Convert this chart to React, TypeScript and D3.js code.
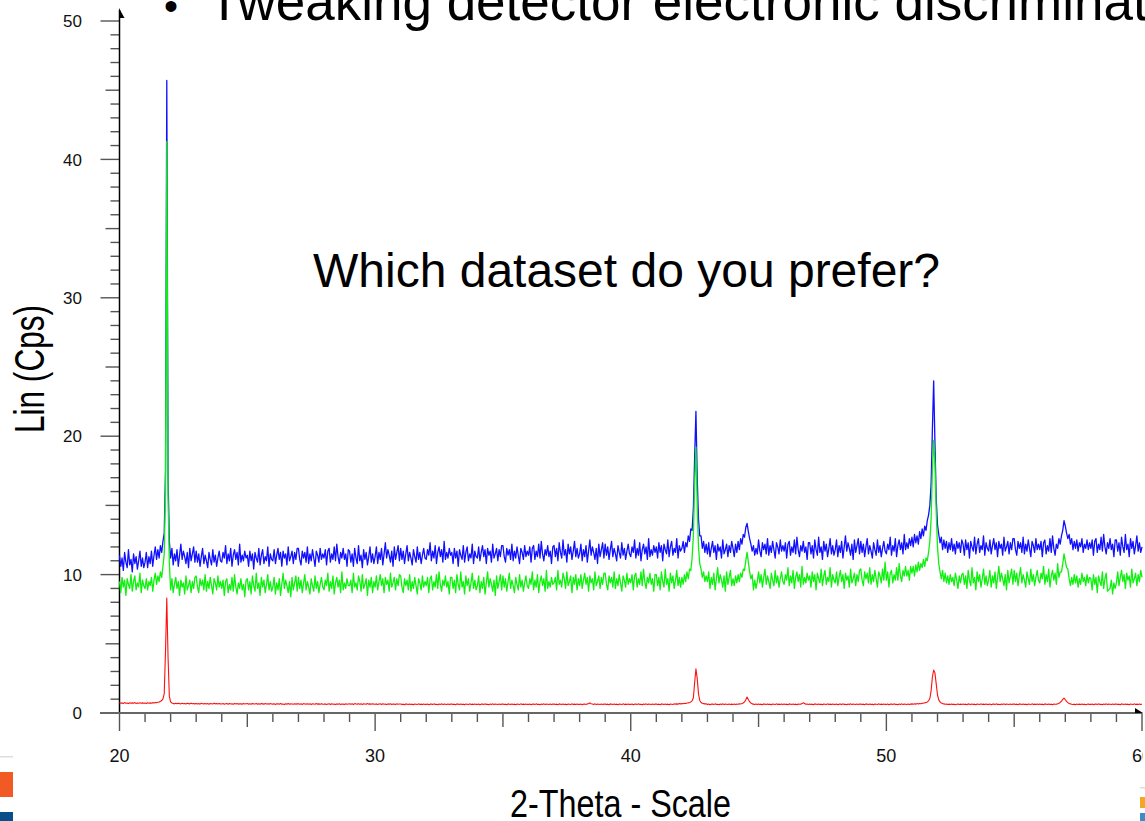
import React from "react";
import * as d3 from "d3";

const W = 1145;
const H = 821;
const FONT = "'Liberation Sans', Arial, Helvetica, sans-serif";

// scan: 2-theta from 20 to 60 deg, 0.05 deg step (one row per degree)
const scanStart = 20;
const scanStep = 0.05;

const blueCps = [
  11.4, 10.6, 11.2, 10.3, 11.6, 10.9, 10.5, 11.8, 10.7, 11.1, 10.2, 11.5, 10.8, 11.3, 10.4, 11.0, 11.7, 10.6, 11.2, 10.5,
  10.9, 11.6, 10.5, 11.3, 10.8, 11.7, 10.6, 11.4, 12.0, 11.1, 11.8, 11.2, 12.1, 11.6, 12.4, 13.0, 17.5, 45.7, 17.0, 12.4,
  11.2, 11.9, 10.7, 11.5, 11.0, 11.8, 10.6, 11.4, 12.2, 11.1, 11.7, 11.3, 10.8, 11.6, 10.5, 11.9, 11.0, 11.5, 12.0, 10.9,
  11.7, 10.9, 11.5, 10.6, 11.3, 11.9, 10.8, 11.4, 11.0, 10.5, 11.6, 11.1, 10.7, 11.8, 10.9, 11.4, 10.6, 11.2, 11.7, 11.0,
  10.9, 11.6, 11.2, 12.1, 10.8, 11.5, 11.0, 11.9, 10.6, 11.4, 11.8, 11.1, 11.6, 10.7, 12.2, 10.9, 11.4, 11.0, 11.7, 11.2,
  11.4, 10.6, 11.7, 11.0, 11.5, 10.4, 11.6, 11.2, 10.9, 11.9, 10.7, 11.4, 11.8, 10.8, 11.3, 11.0, 12.0, 10.6, 11.5, 11.1,
  11.0, 11.8, 10.8, 11.4, 11.9, 11.1, 11.6, 10.6, 11.7, 11.2, 11.5, 10.7, 12.0, 11.0, 11.3, 11.7, 10.8, 11.6, 11.1, 11.9,
  11.9, 11.1, 10.7, 11.7, 11.2, 11.6, 10.9, 12.0, 10.8, 11.5, 11.0, 11.8, 11.2, 10.6, 11.7, 11.4, 10.9, 11.9, 11.1, 11.5,
  11.2, 11.8, 10.7, 11.7, 11.9, 10.9, 11.5, 11.1, 12.0, 11.0, 12.2, 11.3, 10.8, 11.6, 11.2, 11.9, 11.1, 11.5, 10.6, 11.8,
  11.7, 10.9, 11.5, 10.6, 11.9, 11.2, 10.8, 12.1, 11.0, 11.4, 10.5, 11.8, 11.1, 11.6, 10.7, 11.3, 12.0, 10.9, 11.5, 10.8,
  11.3, 12.0, 10.8, 11.6, 11.1, 11.9, 10.7, 11.5, 12.3, 11.2, 11.8, 11.4, 10.9, 11.7, 10.6, 12.0, 11.1, 11.6, 12.1, 11.0,
  11.9, 11.1, 11.7, 10.8, 11.5, 12.1, 11.0, 11.6, 11.2, 10.7, 11.8, 11.3, 10.9, 12.0, 11.1, 11.6, 10.8, 11.4, 11.9, 11.2,
  11.1, 11.8, 11.4, 12.3, 11.0, 11.7, 11.2, 12.1, 10.8, 11.6, 12.0, 11.3, 11.8, 10.9, 12.4, 11.1, 11.6, 11.2, 11.9, 11.4,
  11.6, 10.8, 11.9, 11.2, 11.7, 10.6, 11.8, 11.4, 11.1, 12.1, 10.9, 11.6, 12.0, 11.0, 11.5, 11.2, 12.2, 10.8, 11.7, 11.3,
  11.2, 12.0, 11.0, 11.6, 12.1, 11.3, 11.8, 10.8, 11.9, 11.4, 11.7, 10.9, 12.2, 11.2, 11.5, 11.9, 11.0, 11.8, 11.3, 12.1,
  12.1, 11.3, 10.9, 11.9, 11.4, 11.8, 11.1, 12.2, 11.0, 11.7, 11.2, 12.0, 11.4, 10.8, 11.9, 11.6, 11.1, 12.1, 11.3, 11.7,
  11.4, 12.0, 10.9, 11.9, 12.1, 11.1, 11.7, 11.3, 12.2, 11.2, 12.4, 11.5, 11.0, 11.8, 11.4, 12.1, 11.3, 11.7, 10.8, 12.0,
  12.1, 11.3, 11.9, 11.0, 12.3, 11.6, 11.2, 12.5, 11.4, 11.8, 10.9, 12.2, 11.5, 12.0, 11.1, 11.7, 12.4, 11.3, 11.9, 11.2,
  11.5, 12.2, 11.0, 11.8, 11.3, 12.1, 10.9, 11.7, 12.5, 11.4, 12.0, 11.6, 11.1, 11.9, 10.8, 12.2, 11.3, 11.8, 12.3, 11.2,
  12.2, 11.4, 12.0, 11.1, 11.8, 12.4, 11.3, 11.9, 11.5, 11.0, 12.1, 11.6, 11.2, 12.3, 11.4, 11.9, 11.1, 11.7, 12.2, 11.5,
  11.3, 12.0, 11.6, 12.5, 11.2, 11.9, 11.4, 12.3, 11.0, 11.8, 12.2, 11.5, 12.0, 11.1, 12.6, 11.3, 11.8, 11.4, 12.1, 11.6,
  12.0, 11.2, 12.3, 11.6, 12.1, 11.0, 12.2, 11.8, 11.5, 12.5, 11.3, 12.0, 12.4, 11.4, 11.9, 11.6, 12.6, 11.2, 12.1, 11.7,
  11.9, 12.4, 11.6, 12.3, 12.0, 12.8, 12.4, 13.3, 13.2, 14.8, 18.5, 21.8, 17.0, 14.0, 12.8, 12.8, 11.9, 12.4, 11.6, 12.2,
  11.5, 12.3, 11.3, 11.9, 12.4, 11.6, 12.1, 11.1, 12.2, 11.7, 12.0, 11.2, 12.5, 11.5, 11.8, 12.2, 11.3, 12.1, 11.6, 12.4,
  11.9, 11.3, 12.2, 11.6, 12.4, 11.8, 12.6, 12.2, 12.9, 12.7, 13.4, 13.7, 13.1, 12.6, 12.2, 11.7, 12.1, 11.4, 11.9, 11.5,
  12.5, 11.7, 11.3, 12.3, 11.8, 12.2, 11.5, 12.6, 11.4, 12.1, 11.6, 12.4, 11.8, 11.2, 12.3, 12.0, 11.5, 12.5, 11.7, 12.1,
  11.7, 12.3, 11.2, 12.2, 12.4, 11.4, 12.0, 11.6, 12.5, 11.5, 12.7, 11.8, 11.3, 12.1, 11.7, 12.4, 11.6, 12.0, 11.1, 12.3,
  12.3, 11.5, 12.1, 11.2, 12.5, 11.8, 11.4, 12.7, 11.6, 12.0, 11.1, 12.4, 11.7, 12.2, 11.3, 11.9, 12.6, 11.5, 12.1, 11.4,
  11.8, 12.5, 11.3, 12.1, 11.6, 12.4, 11.2, 12.0, 12.8, 11.7, 12.3, 11.9, 11.4, 12.2, 11.1, 12.5, 11.6, 12.1, 12.6, 11.5,
  12.4, 11.6, 12.2, 11.3, 12.0, 12.6, 11.5, 12.1, 11.7, 11.2, 12.3, 11.8, 11.4, 12.5, 11.6, 12.1, 11.3, 11.9, 12.4, 11.7,
  11.5, 12.2, 11.8, 12.7, 11.4, 12.1, 11.7, 12.6, 11.3, 12.1, 12.5, 11.8, 12.3, 11.5, 12.9, 11.8, 12.3, 11.9, 12.6, 12.1,
  12.7, 12.0, 12.9, 12.3, 12.8, 12.2, 13.1, 12.6, 13.3, 12.8, 13.5, 13.2, 13.9, 14.3, 15.0, 16.5, 20.5, 24.0, 19.5, 15.5,
  13.6, 12.9, 12.3, 12.7, 11.8, 12.5, 11.9, 12.4, 11.6, 12.3, 11.8, 12.6, 11.7, 12.2, 11.5, 12.4, 11.9, 12.3, 11.6, 12.5,
  12.2, 11.4, 12.5, 11.8, 12.3, 11.2, 12.4, 12.0, 11.7, 12.7, 11.5, 12.2, 12.6, 11.6, 12.1, 11.8, 12.8, 11.4, 12.3, 11.9,
  11.7, 12.5, 11.5, 12.1, 12.6, 11.8, 12.3, 11.3, 12.4, 11.9, 12.2, 11.4, 12.7, 11.7, 12.0, 12.4, 11.5, 12.3, 11.8, 12.6,
  12.6, 11.8, 11.4, 12.4, 11.9, 12.3, 11.6, 12.7, 11.5, 12.2, 11.7, 12.5, 11.9, 11.3, 12.4, 12.1, 11.6, 12.6, 11.8, 12.2,
  11.8, 12.4, 11.3, 12.3, 12.5, 11.5, 12.1, 11.7, 12.6, 11.6, 12.8, 11.9, 11.4, 12.2, 11.9, 12.6, 12.2, 12.8, 13.2, 13.9,
  13.5, 13.0, 12.6, 12.9, 12.2, 12.6, 11.8, 12.4, 11.9, 12.5, 11.7, 12.3, 12.0, 12.6, 11.6, 12.2, 11.9, 12.5, 11.8, 12.3,
  11.9, 12.5, 11.4, 12.4, 12.6, 11.6, 12.2, 11.8, 12.7, 11.7, 12.9, 12.0, 11.5, 12.3, 11.9, 12.6, 11.8, 12.2, 11.3, 12.5,
  12.5, 11.7, 12.3, 11.4, 12.7, 12.0, 11.6, 12.9, 11.8, 12.2, 11.3, 12.6, 11.9, 12.4, 11.5, 12.1, 12.8, 11.7, 12.3, 11.6,
  12.0,
];

const greenCps = [
  9.5, 8.7, 9.8, 9.1, 9.6, 8.5, 9.7, 9.3, 9.0, 10.0, 8.8, 9.5, 9.9, 8.9, 9.4, 9.1, 10.1, 8.7, 9.6, 9.2,
  9.0, 9.7, 8.9, 9.5, 9.2, 9.8, 8.8, 9.6, 10.1, 9.3, 9.9, 9.5, 10.2, 9.8, 10.6, 11.5, 16.0, 41.3, 15.5, 10.8,
  8.9, 9.7, 8.7, 9.3, 9.8, 9.0, 9.5, 8.5, 9.6, 9.1, 9.4, 8.6, 9.9, 8.9, 9.2, 9.6, 8.7, 9.5, 9.0, 9.8,
  9.9, 9.1, 8.7, 9.7, 9.2, 9.6, 8.9, 10.0, 8.8, 9.5, 9.0, 9.8, 9.2, 8.6, 9.7, 9.4, 8.9, 9.9, 9.1, 9.5,
  9.0, 9.6, 8.5, 9.5, 9.7, 8.7, 9.3, 8.9, 9.8, 8.8, 10.0, 9.1, 8.6, 9.4, 9.0, 9.7, 8.9, 9.3, 8.4, 9.6,
  9.7, 8.9, 9.5, 8.6, 9.9, 9.2, 8.8, 10.1, 9.0, 9.4, 8.5, 9.8, 9.1, 9.6, 8.7, 9.3, 10.0, 8.9, 9.5, 8.8,
  9.1, 9.8, 8.6, 9.4, 8.9, 9.7, 8.5, 9.3, 10.1, 9.0, 9.6, 9.2, 8.7, 9.5, 8.4, 9.8, 8.9, 9.4, 9.9, 8.8,
  9.8, 9.0, 9.6, 8.7, 9.4, 10.0, 8.9, 9.5, 9.1, 8.6, 9.7, 9.2, 8.8, 9.9, 9.0, 9.5, 8.7, 9.3, 9.8, 9.1,
  8.9, 9.6, 9.2, 10.1, 8.8, 9.5, 9.0, 9.9, 8.6, 9.4, 9.8, 9.1, 9.6, 8.7, 10.2, 8.9, 9.4, 9.0, 9.7, 9.2,
  9.2, 9.6, 8.7, 10.1, 9.1, 9.4, 8.9, 9.9, 9.5, 8.8, 10.0, 9.0, 9.3, 9.7, 8.5, 9.6, 9.1, 9.8, 8.7, 9.5,
  9.1, 9.9, 8.9, 9.5, 10.0, 9.2, 9.7, 8.7, 9.8, 9.3, 9.6, 8.8, 10.1, 9.1, 9.4, 9.8, 8.9, 9.7, 9.2, 10.0,
  9.9, 9.1, 8.7, 9.7, 9.2, 9.6, 8.9, 10.0, 8.8, 9.5, 9.0, 9.8, 9.2, 8.6, 9.7, 9.4, 8.9, 9.9, 9.1, 9.5,
  9.2, 9.8, 8.7, 9.7, 9.9, 8.9, 9.5, 9.1, 10.0, 9.0, 10.2, 9.3, 8.8, 9.6, 9.2, 9.9, 9.1, 9.5, 8.6, 9.8,
  9.8, 9.0, 9.6, 8.7, 10.0, 9.3, 8.9, 10.2, 9.1, 9.5, 8.6, 9.9, 9.2, 9.7, 8.8, 9.4, 10.1, 9.0, 9.6, 8.9,
  9.2, 9.9, 8.7, 9.5, 9.0, 9.8, 8.6, 9.4, 10.2, 9.1, 9.7, 9.3, 8.8, 9.6, 8.5, 9.9, 9.0, 9.5, 10.0, 8.9,
  9.9, 9.1, 9.7, 8.8, 9.5, 10.1, 9.0, 9.6, 9.2, 8.7, 9.8, 9.3, 8.9, 10.0, 9.1, 9.6, 8.8, 9.4, 9.9, 9.2,
  9.0, 9.7, 9.3, 10.2, 8.9, 9.6, 9.1, 10.0, 8.7, 9.5, 9.9, 9.2, 9.7, 8.8, 10.3, 9.0, 9.5, 9.1, 9.8, 9.3,
  9.4, 9.8, 8.9, 10.3, 9.3, 9.6, 9.1, 10.1, 9.7, 9.0, 10.2, 9.2, 9.5, 9.9, 8.7, 9.8, 9.3, 10.0, 8.9, 9.7,
  9.2, 10.0, 9.0, 9.6, 10.1, 9.3, 9.8, 8.8, 9.9, 9.4, 9.7, 8.9, 10.2, 9.2, 9.5, 9.9, 9.0, 9.8, 9.3, 10.1,
  10.1, 9.3, 8.9, 9.9, 9.4, 9.8, 9.1, 10.2, 9.0, 9.7, 9.2, 10.0, 9.4, 8.8, 9.9, 9.6, 9.1, 10.1, 9.3, 9.7,
  9.4, 10.0, 8.9, 9.9, 10.1, 9.1, 9.7, 9.3, 10.2, 9.2, 10.4, 9.5, 9.0, 9.8, 9.4, 10.1, 9.3, 9.7, 8.8, 10.0,
  10.0, 9.2, 9.8, 8.9, 10.2, 9.5, 9.1, 10.4, 9.3, 9.7, 8.8, 10.1, 9.4, 9.9, 9.0, 9.6, 10.3, 9.2, 9.8, 9.1,
  9.8, 9.3, 10.0, 9.5, 10.2, 9.7, 10.4, 10.3, 11.2, 12.8, 16.5, 19.2, 15.0, 12.0, 10.8, 10.4, 9.8, 10.2, 9.5, 9.9,
  9.5, 10.2, 9.0, 9.8, 9.3, 10.1, 8.9, 9.7, 10.5, 9.4, 10.0, 9.6, 9.1, 9.9, 8.8, 10.2, 9.3, 9.8, 10.3, 9.2,
  9.7, 9.2, 9.9, 9.4, 10.0, 9.5, 10.1, 9.8, 10.4, 10.3, 11.0, 11.6, 10.9, 10.2, 9.7, 10.0, 8.9, 9.6, 9.0, 9.5,
  10.2, 9.4, 10.0, 9.1, 9.8, 10.4, 9.3, 9.9, 9.5, 9.0, 10.1, 9.6, 9.2, 10.3, 9.4, 9.9, 9.1, 9.7, 10.2, 9.5,
  9.3, 10.0, 9.6, 10.5, 9.2, 9.9, 9.4, 10.3, 9.0, 9.8, 10.2, 9.5, 10.0, 9.1, 10.6, 9.3, 9.8, 9.4, 10.1, 9.6,
  9.9, 9.1, 10.2, 9.5, 10.0, 8.9, 10.1, 9.7, 9.4, 10.4, 9.2, 9.9, 10.3, 9.3, 9.8, 9.5, 10.5, 9.1, 10.0, 9.6,
  9.4, 10.2, 9.2, 9.8, 10.3, 9.5, 10.0, 9.0, 10.1, 9.6, 9.9, 9.1, 10.4, 9.4, 9.7, 10.1, 9.2, 10.0, 9.5, 10.3,
  10.4, 9.6, 9.2, 10.2, 9.7, 10.1, 9.4, 10.5, 9.3, 10.0, 9.5, 10.3, 9.7, 9.1, 10.2, 9.9, 9.4, 10.4, 9.6, 10.9,
  9.6, 10.2, 9.1, 10.1, 10.3, 9.4, 10.0, 9.6, 10.5, 9.6, 10.8, 9.9, 9.5, 10.3, 9.9, 10.6, 9.9, 10.3, 9.6, 10.6,
  10.1, 10.6, 9.9, 10.7, 10.2, 10.9, 10.3, 10.8, 10.5, 11.1, 10.6, 11.2, 11.0, 11.6, 12.4, 14.0, 17.5, 19.7, 18.0, 14.5,
  12.0, 10.8, 10.2, 9.7, 10.3, 9.5, 10.1, 9.4, 9.9, 9.3, 10.0, 9.5, 9.8, 9.2, 10.1, 9.6, 9.0, 9.9, 9.4, 10.0,
  10.1, 9.3, 9.9, 9.0, 10.3, 9.6, 9.2, 10.5, 9.4, 9.8, 8.9, 10.2, 9.5, 10.0, 9.1, 9.7, 10.4, 9.3, 9.9, 9.2,
  9.6, 10.3, 9.1, 9.9, 9.4, 10.2, 9.0, 9.8, 10.6, 9.5, 10.1, 9.7, 9.2, 10.0, 8.9, 10.3, 9.4, 9.9, 10.4, 9.3,
  10.3, 9.5, 10.1, 9.2, 9.9, 10.5, 9.4, 10.0, 9.6, 9.1, 10.2, 9.7, 9.3, 10.4, 9.5, 10.0, 9.2, 9.8, 10.3, 9.6,
  9.4, 10.1, 9.7, 10.6, 9.3, 10.0, 9.5, 10.4, 9.1, 9.9, 10.3, 9.6, 10.1, 9.3, 10.8, 9.8, 10.2, 10.2, 10.8, 11.5,
  11.0, 10.5, 10.4, 9.7, 9.2, 9.8, 9.3, 10.0, 9.4, 9.9, 9.1, 9.7, 9.3, 10.1, 9.5, 9.8, 9.2, 10.0, 9.4, 9.8,
  9.7, 8.9, 10.0, 9.3, 9.8, 8.7, 9.9, 9.5, 9.2, 10.2, 9.0, 9.7, 10.1, 8.8, 8.9, 9.0, 9.6, 8.6, 9.4, 9.0,
  9.4, 10.2, 9.2, 9.8, 10.3, 9.5, 10.0, 9.0, 10.1, 9.6, 9.9, 9.1, 10.4, 9.4, 9.7, 10.1, 9.2, 10.0, 9.5, 10.3,
  9.8,
];

const redCps = [
  0.74, 0.70, 0.73, 0.69, 0.75, 0.71, 0.72, 0.68, 0.74, 0.70, 0.73, 0.71, 0.75, 0.69, 0.72, 0.70, 0.74, 0.71, 0.73, 0.70,
  0.72, 0.69, 0.74, 0.71, 0.73, 0.70, 0.75, 0.72, 0.76, 0.74, 0.78, 0.80, 0.84, 0.90, 1.02, 1.40, 4.5, 8.3, 4.0, 1.2,
  0.80, 0.72, 0.69, 0.66, 0.70, 0.67, 0.71, 0.68, 0.66, 0.70, 0.67, 0.69, 0.65, 0.70, 0.68, 0.66, 0.71, 0.67, 0.69, 0.66,
  0.69, 0.65, 0.68, 0.64, 0.70, 0.67, 0.66, 0.69, 0.65, 0.68, 0.64, 0.69, 0.67, 0.65, 0.70, 0.66, 0.68, 0.65, 0.69, 0.66,
  0.65, 0.68, 0.63, 0.67, 0.68, 0.64, 0.69, 0.65, 0.66, 0.63, 0.68, 0.65, 0.69, 0.64, 0.67, 0.66, 0.64, 0.68, 0.65, 0.67,
  0.68, 0.64, 0.67, 0.63, 0.69, 0.66, 0.65, 0.68, 0.64, 0.67, 0.63, 0.68, 0.66, 0.64, 0.69, 0.65, 0.67, 0.64, 0.68, 0.65,
  0.64, 0.67, 0.62, 0.66, 0.67, 0.63, 0.68, 0.64, 0.65, 0.62, 0.67, 0.64, 0.68, 0.63, 0.66, 0.65, 0.63, 0.67, 0.64, 0.66,
  0.67, 0.63, 0.66, 0.62, 0.68, 0.65, 0.64, 0.67, 0.63, 0.66, 0.62, 0.67, 0.65, 0.63, 0.68, 0.64, 0.66, 0.63, 0.67, 0.64,
  0.63, 0.66, 0.61, 0.65, 0.66, 0.62, 0.67, 0.63, 0.64, 0.61, 0.66, 0.63, 0.67, 0.62, 0.65, 0.64, 0.62, 0.66, 0.63, 0.65,
  0.67, 0.63, 0.66, 0.62, 0.68, 0.65, 0.64, 0.67, 0.63, 0.66, 0.62, 0.67, 0.65, 0.63, 0.68, 0.64, 0.66, 0.63, 0.67, 0.64,
  0.63, 0.66, 0.61, 0.65, 0.66, 0.62, 0.67, 0.63, 0.64, 0.61, 0.66, 0.63, 0.67, 0.62, 0.65, 0.64, 0.62, 0.66, 0.63, 0.65,
  0.65, 0.61, 0.64, 0.60, 0.66, 0.63, 0.62, 0.65, 0.61, 0.64, 0.60, 0.65, 0.63, 0.61, 0.66, 0.62, 0.64, 0.61, 0.65, 0.62,
  0.62, 0.65, 0.60, 0.64, 0.65, 0.61, 0.66, 0.62, 0.63, 0.60, 0.65, 0.62, 0.66, 0.61, 0.64, 0.63, 0.61, 0.65, 0.62, 0.64,
  0.65, 0.61, 0.64, 0.60, 0.66, 0.63, 0.62, 0.65, 0.61, 0.64, 0.60, 0.65, 0.63, 0.61, 0.66, 0.62, 0.64, 0.61, 0.65, 0.62,
  0.62, 0.65, 0.60, 0.64, 0.65, 0.61, 0.66, 0.62, 0.63, 0.60, 0.65, 0.62, 0.66, 0.61, 0.64, 0.63, 0.61, 0.65, 0.62, 0.64,
  0.65, 0.61, 0.64, 0.60, 0.66, 0.63, 0.62, 0.65, 0.61, 0.64, 0.60, 0.65, 0.63, 0.61, 0.66, 0.62, 0.64, 0.61, 0.65, 0.62,
  0.62, 0.65, 0.60, 0.64, 0.65, 0.61, 0.66, 0.62, 0.63, 0.60, 0.65, 0.62, 0.66, 0.61, 0.64, 0.63, 0.61, 0.65, 0.62, 0.64,
  0.65, 0.61, 0.64, 0.60, 0.66, 0.63, 0.62, 0.65, 0.61, 0.64, 0.60, 0.65, 0.63, 0.61, 0.66, 0.62, 0.64, 0.61, 0.65, 0.62,
  0.62, 0.65, 0.60, 0.64, 0.65, 0.61, 0.66, 0.68, 0.73, 0.67, 0.65, 0.62, 0.66, 0.61, 0.64, 0.63, 0.61, 0.65, 0.62, 0.64,
  0.65, 0.61, 0.64, 0.60, 0.66, 0.63, 0.62, 0.65, 0.61, 0.64, 0.60, 0.65, 0.63, 0.61, 0.66, 0.62, 0.64, 0.61, 0.65, 0.62,
  0.62, 0.65, 0.60, 0.64, 0.65, 0.61, 0.66, 0.62, 0.63, 0.60, 0.65, 0.62, 0.66, 0.61, 0.64, 0.63, 0.61, 0.65, 0.62, 0.64,
  0.65, 0.61, 0.64, 0.60, 0.66, 0.63, 0.62, 0.65, 0.61, 0.64, 0.60, 0.65, 0.63, 0.61, 0.66, 0.64, 0.66, 0.64, 0.68, 0.66,
  0.68, 0.67, 0.70, 0.69, 0.72, 0.73, 0.76, 0.80, 0.88, 1.10, 2.2, 3.2, 2.5, 1.4, 0.90, 0.76, 0.70, 0.68, 0.66, 0.67,
  0.62, 0.65, 0.60, 0.64, 0.65, 0.61, 0.66, 0.62, 0.63, 0.60, 0.65, 0.62, 0.66, 0.61, 0.64, 0.63, 0.61, 0.65, 0.62, 0.64,
  0.62, 0.65, 0.61, 0.64, 0.63, 0.66, 0.65, 0.68, 0.72, 0.80, 0.95, 1.15, 0.98, 0.82, 0.72, 0.66, 0.64, 0.62, 0.65, 0.61,
  0.65, 0.61, 0.64, 0.60, 0.66, 0.63, 0.62, 0.65, 0.61, 0.64, 0.60, 0.65, 0.63, 0.61, 0.66, 0.62, 0.64, 0.61, 0.65, 0.62,
  0.65, 0.61, 0.64, 0.60, 0.66, 0.63, 0.62, 0.65, 0.61, 0.64, 0.60, 0.65, 0.63, 0.64, 0.68, 0.74, 0.69, 0.63, 0.65, 0.62,
  0.65, 0.61, 0.64, 0.60, 0.66, 0.63, 0.62, 0.65, 0.61, 0.64, 0.60, 0.65, 0.63, 0.61, 0.66, 0.62, 0.64, 0.61, 0.65, 0.62,
  0.62, 0.65, 0.60, 0.64, 0.65, 0.61, 0.66, 0.62, 0.63, 0.60, 0.65, 0.62, 0.66, 0.61, 0.64, 0.63, 0.61, 0.65, 0.62, 0.64,
  0.65, 0.61, 0.64, 0.60, 0.66, 0.63, 0.62, 0.65, 0.61, 0.64, 0.60, 0.65, 0.63, 0.61, 0.66, 0.62, 0.64, 0.61, 0.65, 0.62,
  0.62, 0.65, 0.60, 0.64, 0.65, 0.61, 0.66, 0.62, 0.63, 0.60, 0.65, 0.62, 0.66, 0.61, 0.64, 0.63, 0.61, 0.65, 0.62, 0.64,
  0.66, 0.63, 0.67, 0.64, 0.68, 0.65, 0.69, 0.67, 0.71, 0.70, 0.74, 0.75, 0.80, 0.88, 1.05, 1.60, 2.60, 3.1, 2.9, 2.1,
  1.30, 0.95, 0.80, 0.72, 0.68, 0.66, 0.63, 0.65, 0.61, 0.64, 0.62, 0.65, 0.61, 0.64, 0.60, 0.63, 0.65, 0.61, 0.64, 0.62,
  0.65, 0.61, 0.64, 0.60, 0.66, 0.63, 0.62, 0.65, 0.61, 0.64, 0.60, 0.65, 0.63, 0.61, 0.66, 0.62, 0.64, 0.61, 0.65, 0.62,
  0.62, 0.65, 0.60, 0.64, 0.65, 0.61, 0.66, 0.62, 0.63, 0.60, 0.65, 0.62, 0.66, 0.61, 0.64, 0.63, 0.61, 0.65, 0.62, 0.64,
  0.65, 0.61, 0.64, 0.60, 0.66, 0.63, 0.62, 0.65, 0.61, 0.64, 0.60, 0.65, 0.63, 0.61, 0.66, 0.62, 0.64, 0.61, 0.65, 0.62,
  0.65, 0.61, 0.64, 0.60, 0.66, 0.63, 0.62, 0.65, 0.61, 0.64, 0.60, 0.65, 0.63, 0.64, 0.66, 0.70, 0.76, 0.86, 0.98, 1.08,
  0.96, 0.84, 0.75, 0.69, 0.66, 0.63, 0.61, 0.64, 0.60, 0.65, 0.62, 0.64, 0.61, 0.65, 0.62, 0.64, 0.60, 0.63, 0.65, 0.62,
  0.62, 0.65, 0.60, 0.64, 0.65, 0.61, 0.66, 0.62, 0.63, 0.60, 0.65, 0.62, 0.66, 0.61, 0.64, 0.63, 0.61, 0.65, 0.62, 0.64,
  0.65, 0.61, 0.64, 0.60, 0.66, 0.63, 0.62, 0.65, 0.61, 0.64, 0.60, 0.65, 0.63, 0.61, 0.66, 0.62, 0.64, 0.61, 0.65, 0.62,
  0.63,
];

const yTickLabels = [0, 10, 20, 30, 40, 50];
const xTickLabels = [20, 30, 40, 50, 60];

const seriesList = [
  { name: "blue", values: blueCps, color: "#1010ff", width: 1.3 },
  { name: "green", values: greenCps, color: "#10f010", width: 1.3 },
  { name: "red", values: redCps, color: "#ff1010", width: 1.1 },
];

export default function App() {
  var x = d3.scaleLinear().domain([20, 60]).range([119.5, 1142]);
  var y = d3.scaleLinear().domain([0, 50]).range([713, 21]);

  var line = d3
    .line<[number, number]>()
    .x((d) => x(d[0]))
    .y((d) => y(d[1]));

  var pts = (vals: number[]) =>
    vals.map((v, i) => [scanStart + i * scanStep, v] as [number, number]);

  var yTicks = d3.range(0, 51, 1);
  var xTicks = d3.range(20, 61, 1);

  return (
    <svg
      width={W}
      height={H}
      style={{ position: "absolute", left: 0, top: 0, display: "block", background: "#fff" }}
      fontFamily={FONT}
    >
      <defs>
        <clipPath id="pageClip">
          <rect x={0} y={0} width={1143} height={H} />
        </clipPath>
      </defs>

      {/* slide bullet text, cut by the top edge */}
      <text x={164} y={20} fontSize={40} fill="#000">•</text>
      <text x={208} y={20} fontSize={53} fill="#000">
        Tweaking detector electronic discrimination
      </text>

      {/* y axis */}
      {yTicks.map((t) => {
        var len = t % 10 === 0 ? 19 : t % 5 === 0 ? 14 : 9;
        return (
          <line key={"yt" + t} x1={119.5 - len} x2={119.5} y1={y(t)} y2={y(t)}
            stroke="#555" strokeWidth={1.4} />
        );
      })}
      <line x1={119.5} x2={119.5} y1={10} y2={713} stroke="#000" strokeWidth={1.5} />
      <path d="M119,8 L124.5,18 L119,18 Z" fill="#000" />
      {yTickLabels.map((t) => (
        <text key={"yl" + t} x={82} y={y(t)} dy="0.36em" textAnchor="end" fontSize={17} fill="#111">
          {t}
        </text>
      ))}

      {/* x axis */}
      {xTicks.map((t) => {
        var len = t % 10 === 0 ? 18 : t % 5 === 0 ? 14 : 9;
        return (
          <line key={"xt" + t} x1={x(t)} x2={x(t)} y1={713} y2={713 + len}
            stroke="#555" strokeWidth={1.4} />
        );
      })}
      <line x1={100} x2={1142} y1={713} y2={713} stroke="#666" strokeWidth={2} />
      <path d="M1135,708 L1143,713 L1135,713 Z" fill="#000" />
      <g clipPath="url(#pageClip)">
        {xTickLabels.map((t) => (
          <text key={"xl" + t} x={x(t)} y={762} textAnchor="middle" fontSize={18} fill="#111">
            {t}
          </text>
        ))}
      </g>

      {/* scans */}
      {seriesList.map((s) => (
        <path key={s.name} d={line(pts(s.values)) || ""} fill="none"
          stroke={s.color} strokeWidth={s.width} strokeLinejoin="round" />
      ))}

      {/* annotation & axis titles */}
      <text x={313} y={287} fontSize={48} fill="#000">Which dataset do you prefer?</text>
      <text transform="translate(44,433) rotate(-90)" fontSize={42} fill="#000"
        textLength={128} lengthAdjust="spacingAndGlyphs">
        Lin (Cps)
      </text>
      <text x={510} y={817} fontSize={38} fill="#000" textLength={221} lengthAdjust="spacingAndGlyphs">
        2-Theta - Scale
      </text>

      {/* slide logo pieces at the corners */}
      <rect x={0} y={756} width={13} height={1.5} fill="#ddd" />
      <rect x={0} y={772} width={13} height={25} fill="#f15a24" />
      <rect x={0} y={812} width={13} height={9} fill="#0b4f8a" />
      <rect x={1140} y={787} width={5} height={1.5} fill="#ddd" />
      <rect x={1140} y={797} width={5} height={11} fill="#f5a623" />
      <rect x={1140} y={813} width={5} height={8} fill="#3d8cc9" />
    </svg>
  );
}
